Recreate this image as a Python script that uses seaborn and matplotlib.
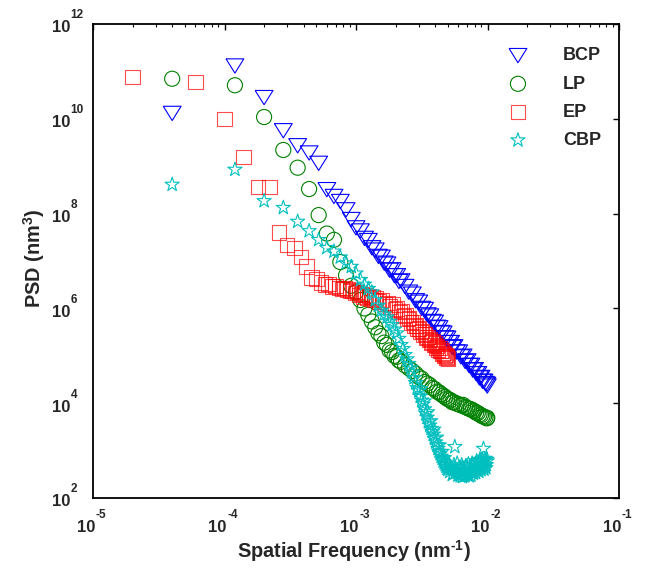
import numpy as np
import pandas as pd
import matplotlib
matplotlib.use("Agg")
import matplotlib.pyplot as plt
import seaborn as sns
from matplotlib.ticker import FixedLocator, LogLocator, NullFormatter, NullLocator
from matplotlib.transforms import blended_transform_factory, offset_copy

# ---------------- data ----------------
bcp_f = [4.0e-5, 1.2e-4, 2.0e-4, 2.8e-4, 3.6e-4, 4.4e-4, 5.2e-4, 6.0e-4, 6.8e-4, 7.6e-4,
         8.4e-4, 9.2e-4, 1.0e-3, 1.08e-3, 1.16e-3, 1.24e-3, 1.32e-3, 1.40e-3, 1.48e-3, 1.56e-3,
         1.64e-3, 1.72e-3, 1.80e-3, 1.88e-3, 1.96e-3, 2.04e-3, 2.12e-3, 2.20e-3, 2.36e-3, 2.52e-3,
         2.68e-3, 2.84e-3, 3.00e-3, 3.16e-3, 3.32e-3, 3.48e-3, 3.64e-3, 3.80e-3, 3.96e-3, 4.12e-3,
         4.28e-3, 4.44e-3, 4.60e-3, 4.76e-3, 4.92e-3, 5.08e-3, 5.24e-3, 5.40e-3, 5.56e-3, 5.80e-3,
         6.04e-3, 6.28e-3, 6.52e-3, 6.76e-3, 7.00e-3, 7.24e-3, 7.48e-3, 7.72e-3, 7.96e-3, 8.20e-3,
         8.44e-3, 8.68e-3, 8.92e-3, 9.16e-3, 9.40e-3, 9.64e-3, 9.88e-3, 9.96e-3]
bcp_psd = [1.3e10, 1.3e11, 2.8e10, 5.6e9, 2.7e9, 1.9e9, 1.15e9, 3.2e8, 2.3e8, 1.8e8,
           1.2e8, 7.5e7, 5.0e7, 4.3e7, 3.0e7, 2.7e7, 1.9e7, 1.7e7, 1.25e7, 1.2e7,
           9.0e6, 8.6e6, 6.4e6, 6.5e6, 4.9e6, 4.9e6, 3.7e6, 3.8e6, 2.9e6, 2.2e6,
           2.0e6, 1.45e6, 1.35e6, 1.0e6, 9.5e5, 7.3e5, 6.9e5, 5.3e5, 5.1e5, 4.0e5,
           3.9e5, 3.1e5, 3.0e5, 2.4e5, 2.35e5, 1.9e5, 1.9e5, 1.5e5, 1.55e5, 1.2e5,
           1.2e5, 9.5e4, 9.8e4, 7.6e4, 7.8e4, 6.2e4, 6.3e4, 5.0e4, 5.1e4, 4.2e4,
           4.2e4, 3.4e4, 3.5e4, 2.9e4, 2.9e4, 2.6e4, 2.5e4, 2.3e4]

lp_f = [4.0e-5, 1.2e-4, 2.0e-4, 2.8e-4, 3.6e-4, 4.4e-4, 5.2e-4, 6.0e-4, 6.8e-4, 7.6e-4,
        8.4e-4, 9.2e-4, 1.0e-3, 1.08e-3, 1.16e-3, 1.24e-3, 1.32e-3, 1.40e-3, 1.48e-3, 1.56e-3,
        1.64e-3, 1.72e-3, 1.80e-3, 1.88e-3, 1.96e-3, 2.04e-3, 2.12e-3, 2.20e-3, 2.36e-3, 2.52e-3,
        2.68e-3, 2.84e-3, 3.00e-3, 3.16e-3, 3.32e-3, 3.48e-3, 3.64e-3, 3.80e-3, 3.96e-3, 4.12e-3,
        4.28e-3, 4.44e-3, 4.60e-3, 4.76e-3, 4.92e-3, 5.08e-3, 5.24e-3, 5.40e-3, 5.56e-3, 5.80e-3,
        6.04e-3, 6.28e-3, 6.52e-3, 6.76e-3, 7.00e-3, 7.24e-3, 7.48e-3, 7.72e-3, 7.96e-3, 8.20e-3,
        8.44e-3, 8.68e-3, 8.92e-3, 9.16e-3, 9.40e-3, 9.64e-3, 9.88e-3, 9.96e-3]
lp_psd = [7.0e10, 5.1e10, 1.09e10, 2.2e9, 9.3e8, 3.3e8, 9.3e7, 3.8e7, 2.8e7, 9.5e6,
          5.0e6, 3.0e6, 2.2e6, 1.5e6, 1.0e6, 7.3e5, 5.3e5, 4.0e5, 3.0e5, 2.6e5,
          1.9e5, 1.7e5, 1.3e5, 1.2e5, 1.0e5, 9.5e4, 8.0e4, 7.5e4, 6.3e4, 5.5e4,
          4.8e4, 4.2e4, 3.6e4, 3.3e4, 2.8e4, 2.6e4, 2.4e4, 2.1e4, 2.0e4, 1.75e4,
          1.7e4, 1.55e4, 1.45e4, 1.35e4, 1.25e4, 1.2e4, 1.15e4, 1.05e4, 1.05e4, 9.8e3,
          9.5e3, 9.0e3, 9.2e3, 8.3e3, 8.0e3, 7.6e3, 7.5e3, 7.0e3, 6.8e3, 6.3e3,
          6.2e3, 5.8e3, 5.6e3, 5.3e3, 5.2e3, 5.0e3, 4.8e3, 4.9e3]

ep_f = [2.0e-5, 6.0e-5, 1.0e-4, 1.4e-4, 1.8e-4, 2.2e-4, 2.6e-4, 3.0e-4, 3.4e-4, 3.8e-4,
        4.2e-4, 4.6e-4, 5.0e-4, 5.4e-4, 5.8e-4, 6.2e-4, 6.6e-4, 7.0e-4, 7.4e-4, 7.8e-4,
        8.2e-4, 8.6e-4, 9.0e-4, 9.4e-4, 9.8e-4, 1.02e-3, 1.06e-3, 1.10e-3, 1.14e-3, 1.18e-3,
        1.22e-3, 1.26e-3, 1.30e-3, 1.34e-3, 1.38e-3, 1.42e-3, 1.50e-3, 1.58e-3, 1.66e-3, 1.74e-3,
        1.82e-3, 1.90e-3, 1.98e-3, 2.06e-3, 2.14e-3, 2.22e-3, 2.30e-3, 2.38e-3, 2.46e-3, 2.54e-3,
        2.62e-3, 2.70e-3, 2.78e-3, 2.86e-3, 2.94e-3, 3.02e-3, 3.10e-3, 3.18e-3, 3.26e-3, 3.34e-3,
        3.42e-3, 3.50e-3, 3.58e-3, 3.66e-3, 3.74e-3, 3.82e-3, 3.90e-3, 3.98e-3, 4.06e-3, 4.14e-3,
        4.22e-3, 4.30e-3, 4.38e-3, 4.46e-3, 4.54e-3, 4.62e-3, 4.70e-3, 4.78e-3, 4.86e-3, 4.94e-3,
        5.02e-3]
ep_psd = [7.7e10, 6.0e10, 1.0e10, 1.55e9, 3.6e8, 3.6e8, 4.0e7, 2.2e7, 1.9e7, 1.2e7,
          7.6e6, 4.5e6, 4.2e6, 3.5e6, 3.2e6, 3.3e6, 2.9e6, 3.0e6, 2.7e6, 2.6e6,
          2.7e6, 2.5e6, 2.3e6, 2.4e6, 2.1e6, 2.2e6, 1.9e6, 2.0e6, 1.8e6, 1.9e6,
          1.7e6, 1.85e6, 1.6e6, 1.75e6, 1.5e6, 1.65e6, 1.4e6, 1.5e6, 1.25e6, 1.3e6,
          1.1e6, 1.2e6, 9.5e5, 1.0e6, 8.5e5, 8.8e5, 7.0e5, 7.2e5, 5.9e5, 6.2e5,
          5.0e5, 5.2e5, 4.3e5, 4.4e5, 3.7e5, 3.8e5, 3.2e5, 3.3e5, 2.8e5, 2.9e5,
          2.45e5, 2.5e5, 2.15e5, 2.25e5, 1.9e5, 2.0e5, 1.7e5, 1.8e5, 1.5e5, 1.6e5,
          1.35e5, 1.45e5, 1.25e5, 1.3e5, 1.1e5, 1.15e5, 1.0e5, 1.05e5, 9.2e4, 9.6e4,
          8.8e4]

cbp_f = [4.0e-5, 1.2e-4, 2.0e-4, 2.8e-4, 3.6e-4, 4.4e-4, 5.2e-4, 6.0e-4, 6.8e-4, 7.6e-4,
         8.4e-4, 9.2e-4, 1.0e-3, 1.08e-3, 1.16e-3, 1.24e-3, 1.32e-3, 1.40e-3, 1.48e-3, 1.56e-3,
         1.64e-3, 1.72e-3, 1.80e-3, 1.88e-3, 1.96e-3, 2.04e-3, 2.12e-3, 2.20e-3, 2.28e-3, 2.36e-3,
         2.44e-3, 2.52e-3, 2.60e-3, 2.68e-3, 2.76e-3, 2.84e-3, 2.92e-3, 3.00e-3, 3.08e-3, 3.16e-3,
         3.24e-3, 3.32e-3, 3.40e-3, 3.48e-3, 3.56e-3, 3.64e-3, 3.72e-3, 3.80e-3, 3.88e-3, 3.96e-3,
         4.04e-3, 4.12e-3, 4.20e-3, 4.28e-3, 4.36e-3, 4.44e-3, 4.52e-3, 4.60e-3, 4.68e-3, 4.76e-3,
         4.84e-3, 4.92e-3, 5.00e-3, 5.08e-3, 5.16e-3, 5.24e-3, 5.32e-3, 5.40e-3, 5.48e-3, 5.56e-3,
         5.64e-3, 5.72e-3, 5.80e-3, 5.88e-3, 5.96e-3, 6.04e-3, 6.12e-3, 6.20e-3, 6.28e-3, 6.36e-3,
         6.44e-3, 6.52e-3, 6.60e-3, 6.68e-3, 6.76e-3, 6.84e-3, 6.92e-3, 7.00e-3, 7.08e-3, 7.16e-3,
         7.24e-3, 7.32e-3, 7.40e-3, 7.48e-3, 7.56e-3, 7.64e-3, 7.72e-3, 7.80e-3, 7.88e-3, 7.96e-3,
         8.04e-3, 8.12e-3, 8.20e-3, 8.28e-3, 8.36e-3, 8.44e-3, 8.52e-3, 8.60e-3, 8.68e-3, 8.76e-3,
         8.84e-3, 8.92e-3, 9.00e-3, 9.08e-3, 9.16e-3, 9.24e-3, 9.32e-3, 9.40e-3, 9.48e-3, 9.56e-3,
         9.64e-3, 9.72e-3, 9.80e-3, 9.88e-3, 9.96e-3,
         3.10e-3, 3.30e-3, 3.50e-3, 3.70e-3, 3.90e-3, 4.10e-3, 4.30e-3, 4.50e-3, 4.70e-3]
cbp_psd = [4.1e8, 8.5e8, 1.85e8, 1.33e8, 6.8e7, 4.3e7, 2.8e7, 1.9e7, 1.6e7, 1.2e7,
           9.0e6, 7.6e6, 5.5e6, 4.0e6, 3.2e6, 2.6e6, 2.2e6, 1.5e6, 1.15e6, 9.0e5,
           7.5e5, 6.5e5, 5.3e5, 4.5e5, 3.6e5, 3.0e5, 2.3e5, 1.7e5, 1.4e5, 1.05e5,
           8.5e4, 6.8e4, 5.5e4, 4.5e4, 3.4e4, 2.7e4, 2.1e4, 1.8e4, 1.4e4, 1.15e4,
           9.5e3, 7.5e3, 6.0e3, 5.0e3, 4.0e3, 3.4e3, 2.9e3, 2.5e3, 2.2e3, 1.8e3,
           1.5e3, 1.3e3, 1.1e3, 9.5e2, 8.5e2, 7.5e2, 6.8e2, 6.0e2, 5.5e2, 5.0e2,
           4.6e2, 4.2e2, 4.0e2, 5.2e2, 3.6e2, 4.6e2, 4.2e2, 3.1e2, 3.3e2, 5.0e2,
           1.2e3, 3.4e2, 3.8e2, 5.4e2, 3.0e2, 4.0e2, 4.4e2, 2.9e2, 3.2e2, 5.0e2,
           2.8e2, 3.6e2, 4.0e2, 2.9e2, 3.0e2, 4.8e2, 4.6e2, 3.1e2, 3.3e2, 5.2e2,
           2.9e2, 3.8e2, 4.2e2, 3.0e2, 3.4e2, 5.4e2, 5.0e2, 3.3e2, 3.6e2, 4.2e2,
           4.4e2, 3.4e2, 5.4e2, 6.0e2, 3.8e2, 4.4e2, 4.8e2, 3.6e2, 5.8e2, 6.4e2,
           4.2e2, 3.9e2, 5.2e2, 6.6e2, 6.2e2, 4.4e2, 1.1e3, 4.0e2, 4.8e2, 6.8e2,
           6.4e2, 4.3e2, 5.0e2, 6.5e2, 6.0e2,
           2.0e4, 1.1e4, 6.5e3, 4.2e3, 2.8e3, 1.9e3, 1.3e3, 9.5e2, 7.0e2]

labels = ["BCP", "LP", "EP", "CBP"]
x_ticks = [1e-5, 1e-4, 1e-3, 1e-2, 1e-1]
y_ticks = [1e2, 1e4, 1e6, 1e8, 1e10, 1e12]

# ---------------- style ----------------
sns.set_theme(style="white")
plt.rcParams["font.family"] = ["Liberation Sans", "DejaVu Sans"]
plt.rcParams["font.weight"] = "bold"
plt.rcParams["mathtext.fontset"] = "custom"
plt.rcParams["mathtext.rm"] = "Liberation Sans:bold"
plt.rcParams["mathtext.bf"] = "Liberation Sans:bold"
plt.rcParams["mathtext.it"] = "Liberation Sans:bold"
plt.rcParams["mathtext.default"] = "rm"

fig = plt.figure(figsize=(6.45, 5.69), dpi=100)
ax = fig.add_axes([93 / 645, 1 - 498 / 569, (619 - 93) / 645, (498 - 24) / 569])

tri = [(-1.25, 1.0), (1.25, 1.0), (0.0, -1.0), (-1.25, 1.0)]
series = [
    (bcp_f, bcp_psd, labels[0], "#0000FF", tri, 165, 1.0),
    (lp_f, lp_psd, labels[1], "#008000", "o", 118, 1.0),
    (ep_f, ep_psd, labels[2], "#FF0000", "s", 108, 0.7),
    (cbp_f, cbp_psd, labels[3], "#00BFBF", "*", 115, 1.0),
]
for f, p, lab, col, mk, sz, al in series:
    df = pd.DataFrame({"f": f, "psd": p})
    sns.scatterplot(data=df, x="f", y="psd", ax=ax, marker=mk, s=sz, color=col,
                    facecolor="none", edgecolor=col, linewidth=0.8, alpha=al, label=lab)

ax.set_xscale("log")
ax.set_yscale("log")
ax.set_xlim(1e-5, 1e-1)
ax.set_ylim(1e2, 1e12)

ax.xaxis.set_major_locator(FixedLocator(x_ticks))
ax.xaxis.set_minor_locator(LogLocator(base=10, subs=np.arange(2, 10)))
ax.xaxis.set_minor_formatter(NullFormatter())
ax.yaxis.set_major_locator(FixedLocator(y_ticks))
ax.yaxis.set_minor_locator(NullLocator())

ax.tick_params(which="both", direction="in", top=True, right=True, colors="black",
               labelbottom=False, labelleft=False)
ax.tick_params(which="major", length=4, width=1.0)
ax.tick_params(which="minor", length=2.5, width=0.8)
for sp in ax.spines.values():
    sp.set_color("black")
    sp.set_linewidth(1.3)

# MATLAB-style tick labels: "10" with a raised exponent
tx = blended_transform_factory(ax.transData, ax.transAxes)
for v in x_ticks:
    e = int(round(np.log10(v)))
    ax.text(v, 0, "10", transform=offset_copy(tx, fig=fig, x=-7, y=-34, units="dots"),
            ha="center", va="baseline", fontsize=12, fontweight="bold", clip_on=False)
    ax.text(v, 0, "%d" % e, transform=offset_copy(tx, fig=fig, x=3, y=-20, units="dots"),
            ha="left", va="baseline", fontsize=8.5, fontweight="bold", clip_on=False)
ty = blended_transform_factory(ax.transAxes, ax.transData)
for v in y_ticks:
    e = int(round(np.log10(v)))
    ax.text(0, v, "10", transform=offset_copy(ty, fig=fig, x=-23, y=-8.5, units="dots"),
            ha="right", va="baseline", fontsize=12, fontweight="bold", clip_on=False)
    ax.text(0, v, "%d" % e, transform=offset_copy(ty, fig=fig, x=-22.5, y=5.5, units="dots"),
            ha="left", va="baseline", fontsize=8.5, fontweight="bold", clip_on=False)

ax.set_xlabel("Spatial Frequency (nm$^{\u2010 1}$)", fontsize=14.3, fontweight="bold")
ax.set_ylabel(r"PSD (nm$^{3}$)", fontsize=14.3, fontweight="bold")
ax.xaxis.set_label_coords(0.497, -0.084)
ax.yaxis.set_label_coords(-0.088, 0.506)

leg = ax.legend(loc="upper left", bbox_to_anchor=(0.777, 0.966), frameon=False,
                prop={"weight": "bold", "size": 13}, handlelength=1.0,
                handletextpad=2.0, labelspacing=0.62, borderaxespad=0.0, scatterpoints=1)

fig.savefig("out.png", dpi=100)
